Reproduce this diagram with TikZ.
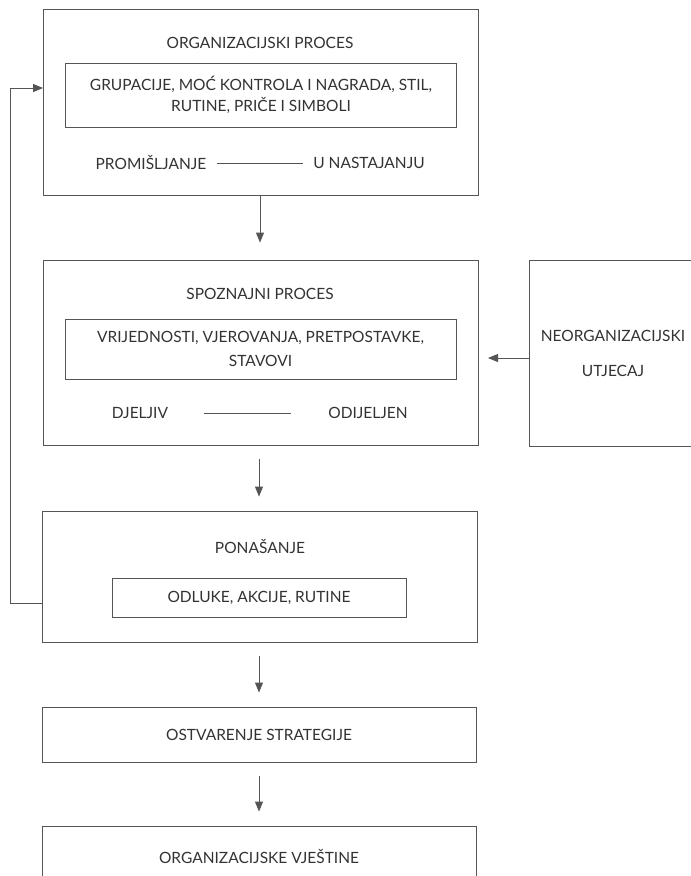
\documentclass[tikz,border=0pt]{standalone}
\usepackage{fontspec}
\setmainfont{Lato}
\usetikzlibrary{arrows.meta}

\definecolor{ink}{HTML}{333333}
\definecolor{rule}{HTML}{555555}

\tikzset{
    box/.style={draw=rule, line width=0.9pt, inner sep=0pt},
    label/.style={text=ink, font=\fontsize{15.5}{21}\selectfont, align=center, inner sep=0pt},
    arr/.style={draw=rule, line width=0.9pt, -{Triangle[length=10pt,width=8pt]}}
}

\begin{document}
\begin{tikzpicture}[x=1pt,y=-1pt]
\def \bw{435};
\def \cx{260};
\useasboundingbox (0,0) rectangle (691,876);
\clip (0,0) rectangle (691,876);
\fill[white] (0,0) rectangle (691,876);

% organizacijski proces
\node[box, minimum width=\bw, minimum height=186] (orgproc) at (261,102) {};
\node[label] (orgtitle) at (\cx,43) {ORGANIZACIJSKI PROCES};
\node[box, label, minimum width=391, minimum height=64] (orgin) at (261,95)
    {GRUPACIJE, MOĆ KONTROLA I NAGRADA, STIL,\\RUTINE, PRIČE I SIMBOLI};
\node[label] (prom) at (151,163) {PROMIŠLJANJE};
\node[label] (nast) at (369,163) {U NASTAJANJU};
\draw[rule, line width=0.8pt, shorten <=10pt, shorten >=10pt] (prom) -- (nast);

% spoznajni proces
\node[box, minimum width=\bw, minimum height=185] (spozproc) at (260.5,352.5) {};
\node[label] (spoztitle) at (\cx,294) {SPOZNAJNI PROCES};
\node[box, label, align=center, minimum width=391, minimum height=60] (spozin) at (260.5,349)
    {VRIJEDNOSTI, VJEROVANJA, PRETPOSTAVKE,\\[3pt]STAVOVI};
\node[label] (djel) at (140,413) {DJELJIV};
\node[label] (odij) at (368,413) {ODIJELJEN};
\draw[rule, line width=0.8pt, shorten <=36pt, shorten >=37pt] (djel) -- (odij);

% neorganizacijski utjecaj
\node[box, minimum width=170, minimum height=186] (neorg) at (614,353) {};
\node[label] (neotxt) at (613,336) {NEORGANIZACIJSKI};
\node[label] (utjtxt) at (613,371) {UTJECAJ};
\coordinate (neotip) at (488,358);
\draw[arr] (neorg.west |- neotip) -- (neotip);

% ponasanje
\node[box, minimum width=\bw, minimum height=131] (ponas) at (259.5,576.5) {};
\node[label] (ponastitle) at (\cx,547) {PONAŠANJE};
\node[box, label, minimum width=294, minimum height=39] (ponasin) at (259,597.5)
    {ODLUKE, AKCIJE, RUTINE};

% ostvarenje i vjestine
\node[box, label, minimum width=434, minimum height=55] (ostv) at (259,734.5)
    {OSTVARENJE STRATEGIJE};
\node[box, minimum width=434, minimum height=62] (vjest) at (259,857) {};
\node[label] (vjesttxt) at (259,857) {ORGANIZACIJSKE VJEŠTINE};

% tok
\draw[arr, shorten >=17pt] (orgproc.south -| \cx,0) -- (spozproc.north -| \cx,0);
\foreach \a/\b in {spozproc/ponas, ponas/ostv, ostv/vjest} {
    \draw[arr, shorten <=14pt, shorten >=14pt] (\a.south -| 259,0) -- (\b.north -| 259,0);
}

% povratna veza
\coordinate (fbbot) at (10,603);
\coordinate (fbtop) at (10,88);
\draw[arr] (ponas.west |- fbbot) -- (fbbot) -- (fbtop) -- (orgproc.west |- fbtop);
\end{tikzpicture}
\end{document}
